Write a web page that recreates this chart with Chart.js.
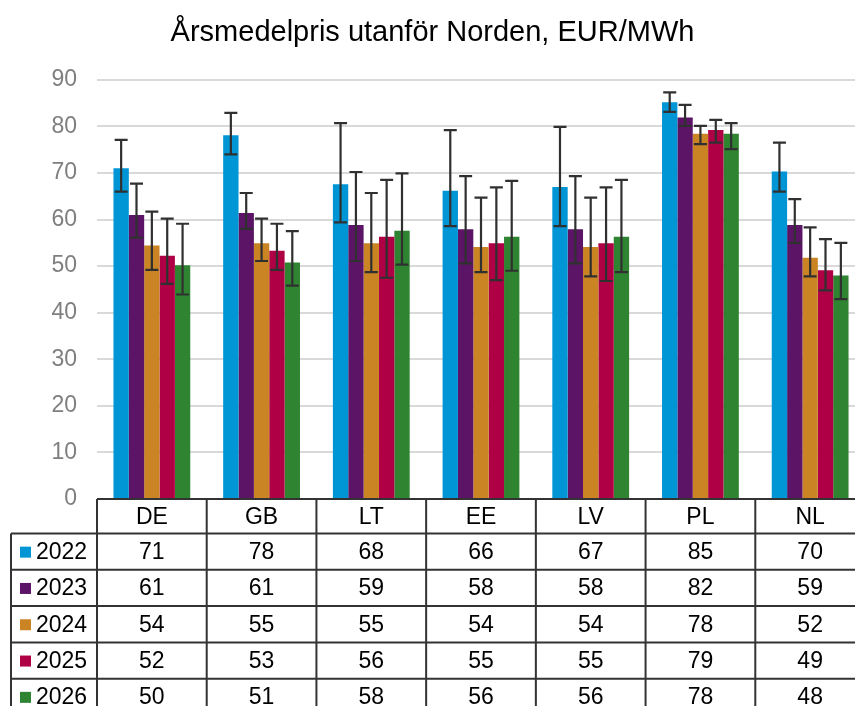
<!DOCTYPE html>
<html>
<head>
<meta charset="utf-8">
<script src="https://cdn.jsdelivr.net/npm/chart.js@4"></script>
<style>
  body { margin: 0; overflow: hidden; background: #fff; }
  #wrap { width: 866px; height: 706px; position: relative; }
</style>
</head>
<body>
<div id="wrap"><canvas id="chart"></canvas></div>
<script>
// Data
const categories = ["DE", "GB", "LT", "EE", "LV", "PL", "NL"];
const years = ["2022", "2023", "2024", "2025", "2026"];

const prices2022 = [71.0, 78.1, 67.6, 66.2, 67.0, 85.2, 70.3];
const prices2023 = [61.0, 61.4, 58.8, 57.9, 57.9, 81.9, 58.8];
const prices2024 = [54.4, 54.9, 54.9, 54.1, 54.1, 78.4, 51.8];
const prices2025 = [52.2, 53.3, 56.3, 54.9, 54.9, 79.2, 49.1];
const prices2026 = [50.2, 50.8, 57.6, 56.3, 56.3, 78.4, 48.0];

// error bar ends (low / high)
const low2022 = [66.0, 74.0, 59.4, 58.6, 58.6, 83.1, 66.0];
const high2022 = [77.1, 82.9, 80.7, 79.2, 79.9, 87.3, 76.5];
const low2023 = [56.1, 58.0, 51.1, 50.6, 50.6, 80.1, 55.0];
const high2023 = [67.7, 65.7, 70.2, 69.3, 69.3, 84.6, 64.4];
const low2024 = [49.2, 51.1, 48.7, 48.7, 47.8, 76.2, 47.8];
const high2024 = [61.7, 60.2, 65.7, 64.7, 64.7, 80.1, 58.3];
const low2025 = [46.2, 49.2, 47.5, 47.0, 46.8, 76.5, 44.8];
const high2025 = [60.2, 59.1, 68.5, 66.9, 66.9, 81.4, 55.8];
const low2026 = [43.9, 45.8, 50.3, 49.0, 48.7, 75.1, 42.9];
const high2026 = [59.1, 57.5, 69.9, 68.3, 68.5, 80.7, 55.0];

const seriesValues = [prices2022, prices2023, prices2024, prices2025, prices2026];
const seriesLow = [low2022, low2023, low2024, low2025, low2026];
const seriesHigh = [high2022, high2023, high2024, high2025, high2026];
const seriesColors = ["#0096d6", "#5c1467", "#ca8424", "#af0045", "#2f8431"];

const fontFamily = "'Liberation Sans', Arial, sans-serif";

// Error bars drawn from the y scale
const errorBars = {
  id: "errorBars",
  afterDatasetsDraw(chart) {
    const ctx = chart.ctx;
    const y = chart.scales.y;
    ctx.save();
    ctx.strokeStyle = "#303030";
    ctx.lineWidth = 2.2;
    seriesValues.forEach((vals, i) => {
      const meta = chart.getDatasetMeta(i);
      meta.data.forEach((bar, j) => {
        const yLo = y.getPixelForValue(seriesLow[i][j]);
        const yHi = y.getPixelForValue(seriesHigh[i][j]);
        const cap = 6.5;
        ctx.beginPath();
        ctx.moveTo(bar.x, yLo);
        ctx.lineTo(bar.x, yHi);
        ctx.moveTo(bar.x - cap, yLo);
        ctx.lineTo(bar.x + cap, yLo);
        ctx.moveTo(bar.x - cap, yHi);
        ctx.lineTo(bar.x + cap, yHi);
        ctx.stroke();
      });
    });
    ctx.restore();
  },
};

// Data table under the plot, aligned to the x scale
const dataTable = {
  id: "dataTable",
  afterDraw(chart) {
    const ctx = chart.ctx;
    const x = chart.scales.x;
    const area = chart.chartArea;
    const colW = x.getPixelForValue(1) - x.getPixelForValue(0);
    const top = area.bottom;
    const headH = 34.5;
    const rowH = 36.3;
    const legendLeft = 11;
    const bottom = top + headH + rowH * years.length;
    const tableLeft = x.getPixelForValue(0) - colW / 2;
    const tableRight = x.getPixelForValue(categories.length - 1) + colW / 2;

    ctx.save();
    ctx.strokeStyle = "#333333";
    ctx.lineWidth = 2;
    ctx.beginPath();
    // header row
    ctx.moveTo(tableLeft, top);
    ctx.lineTo(tableRight, top);
    for (let r = 0; r <= years.length; r++) {
      const yy = top + headH + r * rowH;
      ctx.moveTo(legendLeft, yy);
      ctx.lineTo(tableRight, yy);
    }
    for (let c = 0; c <= categories.length; c++) {
      const xx = tableLeft + c * colW;
      ctx.moveTo(xx, top);
      ctx.lineTo(xx, bottom);
    }
    ctx.moveTo(legendLeft, top + headH);
    ctx.lineTo(legendLeft, bottom);
    ctx.stroke();

    ctx.fillStyle = "#000";
    ctx.font = "23px " + fontFamily;
    ctx.textAlign = "center";
    ctx.textBaseline = "middle";
    categories.forEach((cat, c) => {
      ctx.fillText(cat, x.getPixelForValue(c), top + headH / 2 + 1);
    });
    years.forEach((yr, r) => {
      const cy = top + headH + r * rowH + rowH / 2 + 1;
      ctx.fillStyle = seriesColors[r];
      ctx.fillRect(20, cy - 6, 11, 11);
      ctx.fillStyle = "#000";
      ctx.textAlign = "left";
      ctx.fillText(yr, 36, cy);
      ctx.textAlign = "center";
      seriesValues[r].forEach((v, c) => {
        ctx.fillText(String(Math.round(v)), x.getPixelForValue(c), cy);
      });
    });
    ctx.restore();
  },
};

const ctx = document.getElementById("chart").getContext("2d");
new Chart(ctx, {
  type: "bar",
  data: {
    labels: categories,
    datasets: years.map((yr, i) => ({
      label: yr,
      data: seriesValues[i],
      backgroundColor: seriesColors[i],
      borderWidth: 0,
      categoryPercentage: 0.7,
      barPercentage: 1.0,
    })),
  },
  options: {
    responsive: true,
    maintainAspectRatio: false,
    animation: false,
    layout: {
      padding: { left: 0, right: 1, top: 0, bottom: 207 },
    },
    plugins: {
      legend: { display: false },
      tooltip: { enabled: false },
      title: {
        display: true,
        text: "Årsmedelpris utanför Norden, EUR/MWh",
        color: "#000",
        font: { family: fontFamily, size: 29, weight: "normal" },
        padding: { top: 16, bottom: 29 },
      },
    },
    scales: {
      x: {
        display: false,
      },
      y: {
        min: 0,
        max: 90,
        ticks: {
          stepSize: 10,
          color: "#7f7f7f",
          padding: 20,
          font: { family: fontFamily, size: 23 },
        },
        grid: {
          color: "#d9d9d9",
          lineWidth: 2,
          drawTicks: false,
        },
        border: { display: false },
        afterFit(scale) {
          scale.width = 97;
        },
      },
    },
  },
  plugins: [errorBars, dataTable],
});
</script>
</body>
</html>
